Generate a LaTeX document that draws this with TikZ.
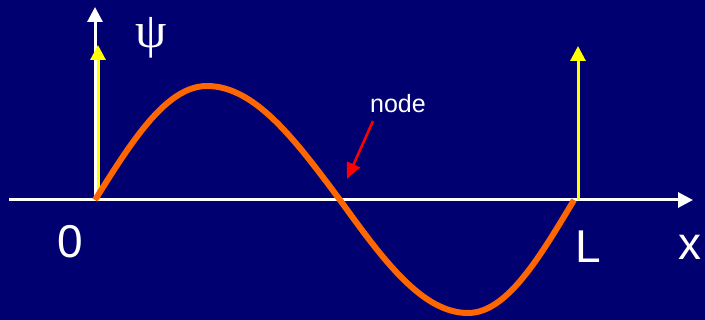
\documentclass[tikz,border=0pt]{standalone}
\usepackage{fontspec}
\setmainfont{Liberation Sans}
\newfontfamily\psifont{Liberation Serif}
\usetikzlibrary{arrows.meta}
\definecolor{bgblue}{RGB}{0,0,112}
\definecolor{wavec}{RGB}{255,102,0}
\definecolor{arrowyellow}{RGB}{255,255,0}
\definecolor{arrowred}{RGB}{255,0,0}
\tikzset{
  axisline/.style={draw=white, line width=3pt, -{Triangle[width=15pt,length=15pt]}},
  yellowarrow/.style={draw=arrowyellow, line width=3pt, -{Triangle[width=15pt,length=15pt]}},
  redarrow/.style={draw=arrowred, line width=2.5pt, -{Triangle[width=14pt,length=16pt]}},
  wave/.style={draw=wavec, line width=6pt},
  biglabel/.style={text=white, font=\fontsize{46}{46}\selectfont, anchor=base, inner sep=0pt},
  smalllabel/.style={text=white, font=\fontsize{25}{25}\selectfont, anchor=base, inner sep=0pt},
}
\begin{document}
\begin{tikzpicture}[x=1pt,y=-1pt]
\fill[bgblue] (0,0) rectangle (705,320);
\useasboundingbox (0,0) rectangle (705,320);
% coordinates
\coordinate (xstart) at (9,200);
\coordinate (xend) at (693,200);
\coordinate (yorig) at (95,200);
\coordinate (ytop) at (95,7);
\coordinate (ylb) at (98,200);
\coordinate (ylt) at (98,45);
\coordinate (yrb) at (578,200);
\coordinate (yrt) at (578,46);
\coordinate (w0) at (95,200);
\coordinate (wpeak) at (207,86);
\coordinate (wnode) at (340,200);
\coordinate (wtrough) at (468,313);
\coordinate (wend) at (574,200);
\coordinate (redtail) at (373,121);
\coordinate (redtip) at (347,179);
% axes
\draw[axisline] (xstart) -- (xend);
\draw[axisline] (yorig) -- (ytop);
% yellow arrows
\draw[yellowarrow] (ylb) -- (ylt);
\draw[yellowarrow] (yrb) -- (yrt);
% wave
\draw[wave] (w0) .. controls (132.4,140.1) and (166.7,86) .. (wpeak)
  .. controls (254.9,86) and (295.5,140.1) .. (wnode)
  .. controls (382.8,259.3) and (421.9,313) .. (wtrough)
  .. controls (506.2,313) and (538.6,259.3) .. (wend);
% red arrow
\draw[redarrow] (redtail) -- (redtip);
% labels
\node[text=white, font=\psifont\fontsize{50}{50}\selectfont, inner sep=0pt] (psi) at (151,38) {ψ};
\node[biglabel] (zero) at (70,258) {0};
\node[biglabel] (ell) at (588,263) {L};
\node[biglabel] (xlab) at (690,260) {x};
\node[smalllabel] (nodelab) at (398,113) {node};
\end{tikzpicture}
\end{document}
